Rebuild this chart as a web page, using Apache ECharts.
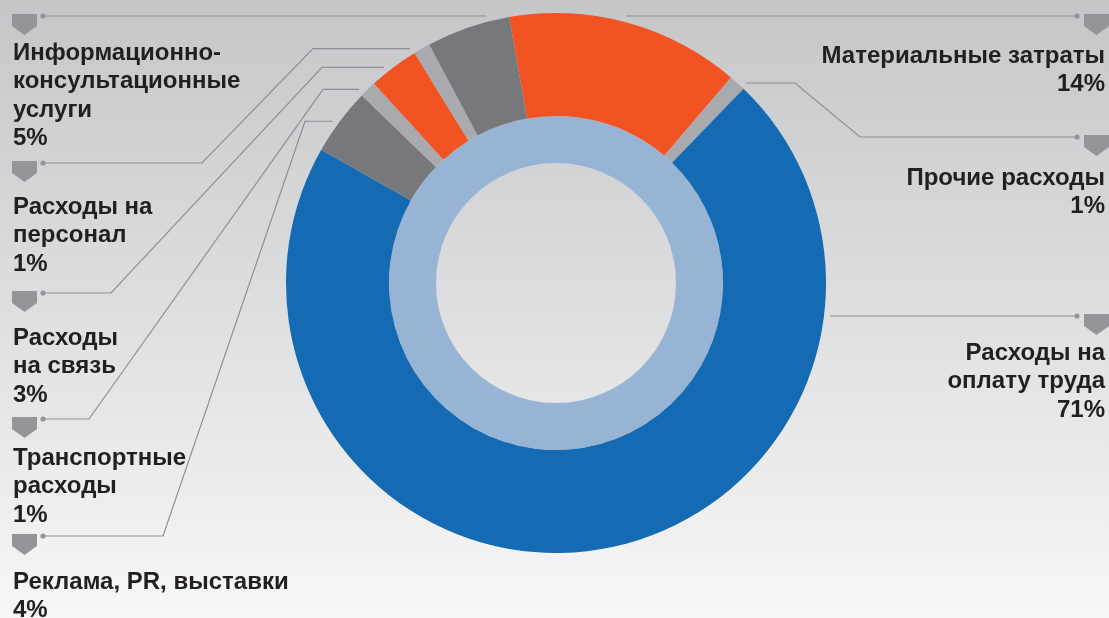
<!DOCTYPE html>
<html><head><meta charset="utf-8">
<script src="https://cdn.jsdelivr.net/npm/echarts@6/dist/echarts.min.js"></script>
<style>html,body{margin:0;padding:0;width:1109px;height:618px;overflow:hidden}#c{width:1109px;height:618px}</style>
</head><body><div id="c"></div>
<script>
// ---- data ----
const categories = ['Материальные затраты','Прочие расходы','Расходы на оплату труда','Реклама, PR, выставки','Транспортные расходы','Расходы на связь','Расходы на персонал','Информационно-консультационные услуги'];
const labelTexts = ['Материальные затраты','Прочие расходы','Расходы на\nоплату труда','Реклама, PR, выставки','Транспортные\nрасходы','Расходы\nна связь','Расходы на\nперсонал','Информационно-\nконсультационные\nуслуги'];
const shares = [14, 1, 71, 4, 1, 3, 1, 5];
// ---- styles ----
const sliceColors = ['#f15323','#a9aaad','#146ab3','#77787b','#a9aaad','#f15323','#a9aaad','#77787b'];
// ---- leader/label layout (px) ----
const leaderLayout = [
  {side:'right', row:16,  kind:'flat', capTop:46},
  {side:'right', row:137, kind:'knee', stubX:795, kneeX:860, capTop:168},
  {side:'right', row:316, kind:'flat', capTop:343},
  {side:'left',  row:536, kind:'knee', stubX:305, kneeX:163, capTop:572},
  {side:'left',  row:419, kind:'knee', stubX:323, kneeX:89,  capTop:448},
  {side:'left',  row:293, kind:'knee', stubX:322, kneeX:111, capTop:328},
  {side:'left',  row:163, kind:'knee', stubX:313, kneeX:202, capTop:197},
  {side:'left',  row:16,  kind:'flat', capTop:43}
];
const CX = 556, CY = 283, R_OUT = 270, R_MID = 167, R_IN = 120, START = 100;
const FONT = 'Liberation Sans';

const chart = echarts.init(document.getElementById('c'), null, {renderer:'canvas'});
chart.setOption({
  animation:false,
  backgroundColor:{type:'linear',x:0,y:0,x2:0,y2:1,colorStops:[{offset:0,color:'#c5c6c8'},{offset:1,color:'#f7f7f7'}]},
  series:[
    {type:'pie', radius:[R_IN,R_MID], center:[CX,CY], silent:true, label:{show:false}, labelLine:{show:false},
     itemStyle:{borderWidth:0}, emphasis:{disabled:true},
     data:[{value:shares.reduce((a,b)=>a+b,0), name:'all', itemStyle:{color:'#98b4d4'}}]},
    {type:'pie', radius:[R_MID,R_OUT], center:[CX,CY], startAngle:START, clockwise:true, silent:true,
     avoidLabelOverlap:false, label:{show:false}, labelLine:{show:false}, emphasis:{disabled:true},
     itemStyle:{borderWidth:0},
     data:categories.map((c,i)=>({name:c, value:shares[i], itemStyle:{color:sliceColors[i]}}))}
  ]
});

// mid-angle of each slice from the pie's own layout
function midPoint(i){
  let lay=null;
  try{ lay = chart.getModel().getSeriesByIndex(1).getData().getItemLayout(i); }catch(e){}
  if(lay){
    const m=(lay.startAngle+lay.endAngle)/2;
    return [lay.cx+lay.r*Math.cos(m), lay.cy+lay.r*Math.sin(m)];
  }
  const tot=shares.reduce((a,b)=>a+b,0);
  let acc=0; for(let k=0;k<i;k++) acc+=shares[k];
  const m=(-START + (acc+shares[i]/2)/tot*360)*Math.PI/180;
  return [CX+R_OUT*Math.cos(m), CY+R_OUT*Math.sin(m)];
}
function edgeX(y, side){
  const rr=R_OUT+6, dy=y-CY;
  const dx=Math.sqrt(Math.max(0, rr*rr-dy*dy));
  return side==='left'? CX-dx : CX+dx;
}
const LINE='#8e8f92', MARK='#949599';
const els=[];
leaderLayout.forEach((L,i)=>{
  const left=L.side==='left';
  const dotX = left? 43 : 1077;
  let pts;
  if(L.kind==='flat'){
    pts=[[edgeX(L.row,L.side),L.row],[dotX,L.row]];
  } else {
    const p=midPoint(i);
    const sx=edgeX(p[1],L.side);
    pts=[[sx,p[1]],[L.stubX,p[1]],[L.kneeX,L.row],[dotX,L.row]];
  }
  els.push({type:'polyline', shape:{points:pts}, style:{stroke:LINE, lineWidth:1.2, fill:null}, silent:true});
  els.push({type:'circle', shape:{cx:dotX, cy:L.row, r:2.6}, style:{fill:MARK}, silent:true});
  const x0 = left? 12 : 1084;
  els.push({type:'polygon', shape:{points:[[x0,L.row-2],[x0+25,L.row-2],[x0+25,L.row+10],[x0+12.5,L.row+19],[x0,L.row+10]]}, style:{fill:MARK}, silent:true});
  els.push({type:'text', silent:true, x: left? 13 : 1105, y: L.capTop-4,
    style:{text: labelTexts[i]+'\n'+shares[i]+'%', fill:'#231f20', font:'bold 24px "'+FONT+'"', lineHeight:28.5,
      align: left?'left':'right', verticalAlign:'top'}});
});
chart.setOption({graphic:{elements:els}});
</script>
</body></html>
